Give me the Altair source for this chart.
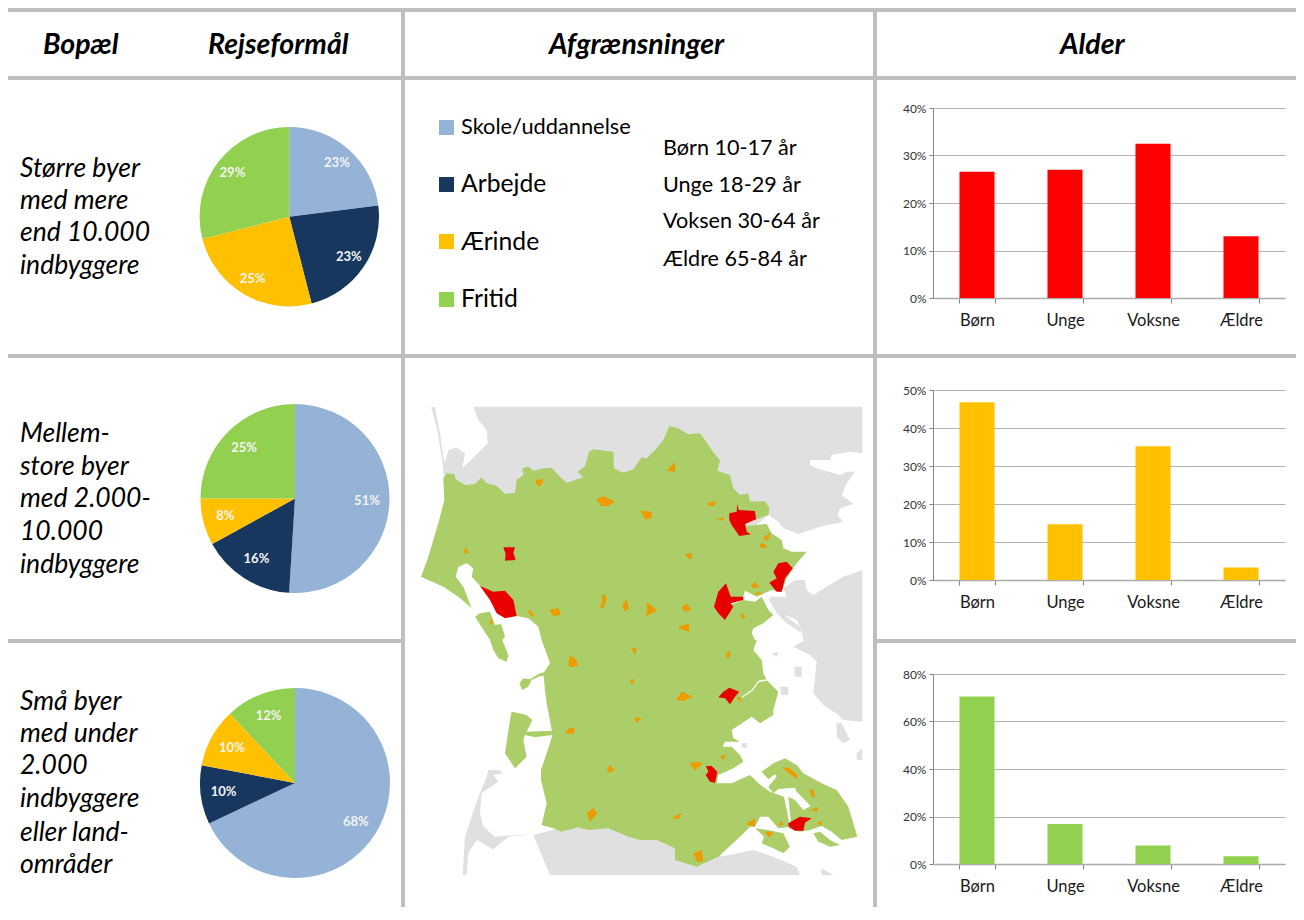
import altair as alt
import pandas as pd

# ---------- chart values ----------
PURPOSES = ["Skole/uddannelse", "Arbejde", "Ærinde", "Fritid"]
PIE_LARGE = [23, 23, 25, 29]
PIE_MEDIUM = [51, 16, 8, 25]
PIE_SMALL = [68, 10, 10, 12]
AGES = ["Børn", "Unge", "Voksne", "Ældre"]
BAR_LARGE = [0.266, 0.27, 0.325, 0.13]
BAR_MEDIUM = [0.468, 0.147, 0.352, 0.033]
BAR_SMALL = [0.705, 0.168, 0.078, 0.033]
AGE_BANDS = ["Børn 10-17 år", "Unge 18-29 år", "Voksen 30-64 år", "Ældre 65-84 år"]
ROW_LARGE = ["Større byer", "med mere", "end 10.000", "indbyggere"]
ROW_MEDIUM = ["Mellem-", "store byer", "med 2.000-", "10.000", "indbyggere"]
ROW_SMALL = ["Små byer", "med under", "2.000", "indbyggere", "eller land-", "områder"]

NW = (415, 400); NE = (640, 400); SW = (415, 640); SE = (640, 640)
COAST_NW = [(85,235),(95,220),(118,222),(122,238),(150,255),(180,252),(200,232),(215,250),(245,257),(270,282),(300,278),(305,240),(325,225),(322,205),(340,200),(355,212),(385,205),(410,203),(435,230),(455,248),(505,232),(488,215),(510,198),(522,155),(535,148),(595,155),(597,205),(625,218),(655,208),(680,172)]
COAST_NE = [(20,175),(45,150),(70,120),(88,78),(115,85),(145,103),(180,100),(195,120),(215,150),(240,182),(232,212),(270,225),(280,265),(300,285),(325,280),(330,305),(375,303),(388,325),(385,345),(350,358),(318,368),(320,378),(380,372),(395,400),(425,420),(430,445),(455,455),(500,455),(470,490),(440,535),(425,575),(395,570),(350,590),(315,572),(310,590),(272,605),(272,615),(310,600),(345,605),(365,590),(385,630),(400,645),(370,670),(340,685),(335,700),(345,720)]
COAST_SE = [(350,0),(340,30),(365,60),(370,100),(380,120),(415,155),(400,210),(400,225),(360,250),(335,230),(275,270),(280,295),(300,305),(255,305),(248,320),(275,320),(300,345),(310,365),(280,385),(235,405),(230,430),(275,430),(330,405),(355,430),(390,455),(432,470),(445,535),(450,560),(415,565),(385,530),(360,530),(345,560),(330,560),(300,590),(235,650),(170,680),(105,660),(105,625),(50,600),(0,600)]
COAST_SW = [(640,590),(580,565),(520,570),(490,562),(440,575),(415,565),(380,555),(395,490),(378,420),(378,390),(405,310),(412,285),(410,270),(400,215),(395,190),(390,150),(385,100),(405,70),(380,0)]
COAST_W = [(380,720),(370,680),(340,655),(305,648),(280,640),(195,557),(170,530),(175,505),(155,490),(130,500),(122,530),(145,560),(170,625),(130,590),(85,560),(18,530),(40,470),(70,370),(88,300)]
FANO_NW = [(180,650),(195,640),(225,635),(240,675),(258,672),(270,708),(262,720)]
FANO_SW = [(280,45),(275,65),(250,55),(235,30),(225,0)]
ROMO_SPIT = [(400,95),(375,100),(345,118),(325,115),(313,130),(322,150),(340,140),(350,120),(375,108),(400,105)]
ROMO = [(290,215),(335,225),(352,240),(335,275),(410,272),(412,285),(360,292),(330,285),(325,300),(335,350),(300,385),(270,340),(285,240)]
ALS = [(365,395),(400,370),(435,355),(470,375),(490,400),(545,430),(590,450),(625,500),(652,590),(605,600),(575,575),(545,558),(510,570),(480,575),(445,565),(452,540),(445,470),(465,480),(490,510),(512,498),(470,455),(465,443),(415,447),(400,460),(385,440),(410,410),(405,403),(385,418)]
KEGNAES = [(520,580),(540,575),(570,600),(600,615),(570,620),(535,605)]
ISLAND_S = [(345,565),(385,570),(430,580),(450,620),(430,640),(400,625),(365,610),(372,590)]
STREAM = [(380,118),(355,122),(335,150),(305,170),(307,173),(337,153),(357,126),(380,122)]
GREY_N_NW = [(48,20),(60,22),(75,100),(88,190),(100,150),(125,142),(150,160),(142,205),(218,130),(215,90),(190,60),(175,20)]
GREY_N_NE = [(667,20),(667,160),(630,155),(575,165),(570,180),(510,180),(510,195),(530,205),(600,225),(620,215),(645,215),(620,250),(605,285),(640,312),(600,325),(592,345),(610,365),(540,380),(475,402),(430,385),(415,365),(385,345),(200,500)]
GREY_N_BACK = [(300,400),(110,300),(88,240),(80,170),(65,80)]
GREY_E_NE = [(667,510),(610,530),(560,560),(520,585),(500,570),(495,540),(465,540),(430,565),(440,590),(390,590),(400,610),(425,640),(470,660),(485,690),(490,720)]
GREY_E_SE = [(495,0),(460,20),(510,45),(530,65),(520,160),(550,195),(595,225),(610,240),(667,245)]
GREY_STRIP = [(385,595),(400,600),(440,650),(480,680),(485,700),(440,670),(410,640)]
GREY_S_SW = [(355,585),(405,705)]
GREY_S_SE = [(480,705),(470,680),(400,650),(340,630),(240,650),(300,500),(0,500)]
GREY_SPIT = [(220,390),(250,390),(265,400),(235,405),(250,425),(200,460),(195,520),(205,560),(240,590),(355,582),(280,590),(235,628),(185,600),(160,640),(155,705),(143,705),(150,590),(190,470),(215,410)]
GREY_SE_BITS = [[(395,40),(415,35),(410,50)],[(463,80),(485,80),(485,110),(465,110)],[(420,140),(445,140),(445,165),(425,165)],[(305,310),(320,308),(322,325),(305,322)],[(590,250),(605,250),(630,300),(610,310),(590,290)],[(650,340),(667,325),(667,360),(650,360)],[(545,685),(580,705),(545,705)]]
RED_NW = [[(265,442),(300,442),(295,458),(302,480),(270,482),(272,462)],[(195,558),(235,575),(270,572),(295,600),(305,648),(270,655),(245,640),(225,600)]]
RED_NE = [[(268,340),(290,335),(292,312),(296,330),(345,333),(348,358),(315,372),(320,395),(332,403),(298,408),(275,375),(268,360)],[(400,515),(415,490),(440,485),(458,505),(435,535),(425,575),(410,575),(388,548),(410,535)],[(222,620),(235,575),(258,550),(272,590),(310,590),(310,600),(272,610),(280,620),(255,660),(235,640)]]
RED_SE = [[(235,172),(250,155),(268,143),(298,155),(285,170),(270,193),(255,175)],[(198,378),(215,378),(232,395),(225,428),(210,425),(197,405),(205,395)],[(445,550),(480,530),(515,535),(495,548),(490,572),(465,572),(445,558)]]
ORANGE_NW = [[(360,240),(385,237),(378,258),(368,258)],[(145,458),(152,442),(162,460)],[(545,298),(565,288),(600,305),(580,318),(558,318)],[(338,632),(345,630),(360,650),(348,648)],[(402,630),(430,625),(438,645),(415,648)],[(560,585),(570,585),(575,598),(565,625),(555,622),(562,600)],[(622,615),(635,598),(642,625),(630,635)],[(222,670),(232,655),(232,672)]]
ORANGE_NE = [[(80,212),(105,185),(105,215)],[(202,310),(230,302),(222,318),(208,318)],[(228,358),(252,352),(248,362)],[(2,332),(35,335),(35,355),(15,358)],[(135,462),(155,460),(155,478),(145,475)],[(370,412),(392,398),(385,420),(375,420)],[(358,435),(368,428),(382,440),(365,445)],[(333,558),(345,545),(358,562),(340,565)],[(342,582),(355,575),(368,585)],[(302,645),(308,638),(316,655),(305,655)],[(18,608),(28,612),(52,632),(30,642),(18,650),(22,625)],[(125,622),(140,610),(153,630),(135,635)],[(113,682),(148,670),(147,695),(130,690)]]
ORANGE_SE = [[(258,40),(270,32),(270,50),(262,57)],[(108,180),(125,155),(158,170),(130,183)],[(290,175),(300,170),(305,188)],[(240,350),(258,343),(250,360)],[(148,368),(175,365),(188,370),(165,392),(155,378)],[(95,535),(125,518),(115,538)],[(318,552),(345,535),(345,560)],[(375,575),(395,575),(398,585),(385,590)],[(415,555),(422,543),(432,555)],[(530,552),(540,542),(548,555)],[(425,382),(450,385),(472,405),(470,418),(445,398)],[(508,450),(518,447),(525,470),(515,472)],[(512,510),(535,500),(530,515)],[(160,640),(185,630),(190,665),(172,665)]]
ORANGE_SW = [[(460,75),(465,45),(485,60),(488,78),(465,82)],[(450,280),(465,262),(480,268),(475,282)],[(575,390),(585,375),(598,388),(585,398)],[(516,520),(533,503),(547,520),(525,545)],[(648,25),(665,25),(660,45)],[(642,125),(657,115),(655,133)],[(657,232),(680,235),(665,248)]]

PIE_COLORS = ["#95B3D7", "#17375E", "#FFC000", "#92D050"]
FONT = "Lato"
LINE = "#BFBFBF"
OX = OY = 8  # page margin


def blank():
    return alt.Chart(alt.Data(values=[{}]))


def tr(origin, pts):
    return [[origin[0] + x / 3 - OX, origin[1] + y / 3 - OY] for x, y in pts]


def feat(kind, ring):
    return {"type": "Feature", "properties": {"kind": kind},
            "geometry": {"type": "Polygon", "coordinates": [ring + [ring[0]]]}}


features = []
features.append(feat("grey", tr(NW, GREY_N_NW) + tr(NE, GREY_N_NE) + tr(NW, GREY_N_BACK)))
features.append(feat("grey", tr(NE, GREY_E_NE) + tr(SE, GREY_E_SE)))
features.append(feat("grey", tr(NE, GREY_STRIP)))
features.append(feat("grey", tr(SW, GREY_S_SW) + tr(SE, GREY_S_SE)))
features.append(feat("grey", tr(SW, GREY_SPIT)))
features += [feat("grey", tr(SE, b)) for b in GREY_SE_BITS]
features.append(feat("green", tr(NW, COAST_NW) + tr(NE, COAST_NE) + tr(SE, COAST_SE) + tr(SW, COAST_SW) + tr(NW, COAST_W)))
features.append(feat("green", tr(NW, FANO_NW) + tr(SW, FANO_SW)))
features.append(feat("green", tr(SW, ROMO_SPIT)))
features.append(feat("green", tr(SW, ROMO)))
features.append(feat("green", tr(SE, ALS)))
features.append(feat("green", tr(SE, KEGNAES)))
features.append(feat("green", tr(SE, ISLAND_S)))
features.append(feat("water", tr(SE, STREAM)))
for org, group in ((NW, ORANGE_NW), (NE, ORANGE_NE), (SE, ORANGE_SE), (SW, ORANGE_SW)):
    features += [feat("orange", tr(org, b)) for b in group]
for org, group in ((NW, RED_NW), (NE, RED_NE), (SE, RED_SE)):
    features += [feat("red", tr(org, b)) for b in group]

map_layer = alt.Chart(alt.Data(values=features)).mark_geoshape().encode(
    fill=alt.Fill("properties.kind:N", legend=None, scale=alt.Scale(
        domain=["grey", "green", "water", "orange", "red"],
        range=["#E0E0E0", "#ABCE68", "#FFFFFF", "#EE9B00", "#E80000"]))
).project(type="identity", scale=1, translate=[0, 0])


def text(s, x, y, size, **kw):
    return blank().mark_text(text=s, font=FONT, fontSize=size, align=kw.pop("align", "left"),
                             baseline="alphabetic", color=kw.pop("color", "#000000"), **kw).encode(
        x=alt.value(x - OX), y=alt.value(y - OY))


def hline(y, x1=8, x2=1304):
    return blank().mark_rule(color=LINE, strokeWidth=4).encode(
        x=alt.value(x1 - OX), x2=alt.value(x2 - OX), y=alt.value(y - OY))


def vline(x, y1=10, y2=920):
    return blank().mark_rule(color=LINE, strokeWidth=4).encode(
        x=alt.value(x - OX), y=alt.value(y1 - OY), y2=alt.value(y2 - OY))


def pie(values, cx, cy, r):
    df = pd.DataFrame({"purpose": PURPOSES, "share": values, "i": range(4)})
    df["label"] = df["share"].astype(str) + "%"
    base = alt.Chart(df).encode(
        theta=alt.Theta("share:Q", stack=True, scale=alt.Scale(domain=[0, 100])),
        order=alt.Order("i:Q"),
        x=alt.value(cx - OX), y=alt.value(cy - OY))
    arc = base.mark_arc(outerRadius=r).encode(
        color=alt.Color("purpose:N", legend=None,
                        scale=alt.Scale(domain=PURPOSES, range=PIE_COLORS)))
    lab = base.mark_text(radius=72, font=FONT, fontSize=13, fontWeight="bold", color="#F4F4F4").encode(
        text="label:N", detail="purpose:N")
    return arc + lab


layers = [map_layer]
layers += [hline(10), hline(78), hline(356), hline(641, 8, 403), hline(641, 875, 1304), vline(403), vline(875)]
HEAD = dict(fontWeight="bold", fontStyle="italic")
layers += [text("Bopæl", 43, 54, 28.5, **HEAD), text("Rejseformål", 208, 54, 28.5, **HEAD),
           text("Afgrænsninger", 549, 54, 28.5, **HEAD), text("Alder", 1060, 54, 28.5, **HEAD)]
for lines, ys in ((ROW_LARGE, [177, 209, 241, 274]),
                  (ROW_MEDIUM, [442, 475, 507, 540, 573]),
                  (ROW_SMALL, [710, 742, 774, 807, 841, 873])):
    layers += [text(s, 20, y, 26.5, fontStyle="italic") for s, y in zip(lines, ys)]
layers += [pie(PIE_LARGE, 289.3, 216.7, 89.7), pie(PIE_MEDIUM, 295, 498.5, 94.5), pie(PIE_SMALL, 295, 783, 95)]
for name, col, sy, by, size in zip(PURPOSES, PIE_COLORS, [127.5, 184.5, 241.5, 299.5], [134, 192, 250, 307], [21.8, 24.7, 24.7, 24.7]):
    layers.append(blank().mark_square(size=225, color=col, opacity=1, filled=True).encode(
        x=alt.value(446.5 - OX), y=alt.value(sy - OY)))
    layers.append(text(name, 461, by, size))
layers += [text(s, 663, y, 21.6) for s, y in zip(AGE_BANDS, [155, 192, 228, 266])]

canvas = alt.layer(*layers).resolve_scale(color="independent", fill="independent").properties(width=925, height=880)


def bars(values, color, dmax, step, height=190, rng=None):
    df = pd.DataFrame({"age": AGES, "v": values})
    y_scale = alt.Scale(domain=[0, dmax], nice=False, **({"range": rng} if rng else {}))
    return alt.Chart(df).mark_bar(color=color).encode(
        x=alt.X("age:N", sort=AGES, title=None,
                scale=alt.Scale(paddingInner=0.602, paddingOuter=0.301),
                axis=alt.Axis(labelAngle=0, labelFont=FONT, labelFontSize=16.5, labelColor="#1A1A1A",
                              tickBand="extent", tickSize=5, tickColor="#868686", domainColor="#ABABAB",
                              domainWidth=1.5, labelPadding=9, grid=False)),
        y=alt.Y("v:Q", title=None, scale=y_scale,
                axis=alt.Axis(format=".0%", values=[i * step for i in range(int(round(dmax / step)) + 1)],
                              labelFont=FONT, labelFontSize=12, labelColor="#333333", tickSize=4,
                              tickColor="#868686", domainColor="#868686", labelPadding=3,
                              grid=True, gridColor="#B3B3B3", gridWidth=1)),
    ).properties(width=352, height=height)


spacer = blank().mark_rule(opacity=0, strokeWidth=0).encode(x=alt.value(0), x2=alt.value(1), y=alt.value(1)).properties(width=352, height=7.5)
right = alt.vconcat(spacer,
                    bars(BAR_LARGE, "#FF0000", 0.4, 0.1),
                    bars(BAR_MEDIUM, "#FFC000", 0.5, 0.1),
                    bars(BAR_SMALL, "#92D050", 0.8, 0.2, height=192, rng=[192, 2]),
                    spacing=92, bounds="flush")

chart = alt.hconcat(canvas, right, spacing=0, bounds="flush").properties(
    padding={"left": -2, "top": 0, "right": -10, "bottom": -15}).configure_view(stroke=None)
chart.save("out.html", embed_options={"renderer": "svg", "actions": False})
